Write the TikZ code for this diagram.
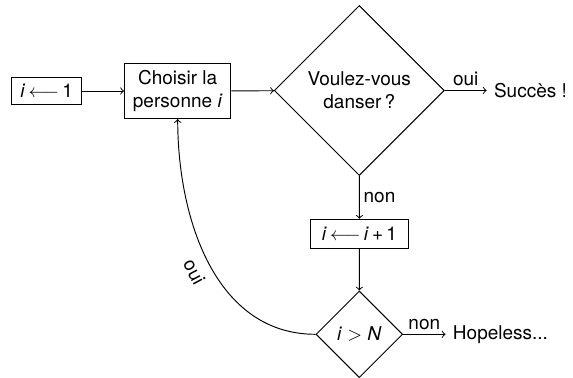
\documentclass[tikz,border=0pt]{standalone}
\usepackage{fontspec}
\setmainfont{TeX Gyre Heros}
\usetikzlibrary{shapes.geometric}
\begin{document}
\begin{tikzpicture}[x=0.5263pt,y=-0.5263pt,
  every node/.style={font=\fontsize{10pt}{12pt}\selectfont},
  line/.style={line width=0.5pt},
  arr/.style={line, ->},
  boxnode/.style={draw, line width=0.5pt, inner sep=0pt, align=center},
  testnode/.style={draw, diamond, aspect=1, line width=0.5pt, inner sep=0pt, align=center},
  endnode/.style={inner sep=3.7pt},
  lab/.style={inner sep=2pt}]
\useasboundingbox (0,0) rectangle (573,378);
\node[boxnode, minimum width=36.8pt, minimum height=14pt] (init) at (46.7,91) {\textit{i}\,$\longleftarrow$\,1};
\node[boxnode, minimum width=56pt, minimum height=29pt] (choose) at (177.7,91) {Choisir la\\personne \textit{i}};
\node[testnode, minimum width=89.5pt, minimum height=89.5pt] (dance) at (359.3,90.5) {Voulez-vous\\danser\,?};
\node[endnode] (succes) at (530.5,90.5) {Succès !};
\node[boxnode, minimum width=51.3pt, minimum height=15.3pt] (incr) at (359.4,233.8) {\textit{i}\,$\longleftarrow$\,\textit{i}\,+\,1};
\node[testnode, minimum width=45.6pt, minimum height=45.6pt] (test) at (359.3,334.3) {\textit{i} $>$ \textit{N}};
\node[endnode] (hopeless) at (500.5,334.3) {Hopeless...};
\draw[arr] (init) -- (choose);
\draw[arr] (choose) -- (dance);
\draw[arr] (dance.east) -- node[lab, above, midway] {oui} (succes);
\draw[arr] (dance.south) -- node[lab, right, midway] {non} (incr.north);
\draw[arr] (incr.south) -- (test.north);
\draw[arr] (test.east) -- node[lab, above, midway] {non} (hopeless);
\draw[arr] (test.west) to[out=180,in=-90] node[lab, pos=0.5, sloped, below, inner sep=5pt] {oui} (choose.south);
\end{tikzpicture}
\end{document}
